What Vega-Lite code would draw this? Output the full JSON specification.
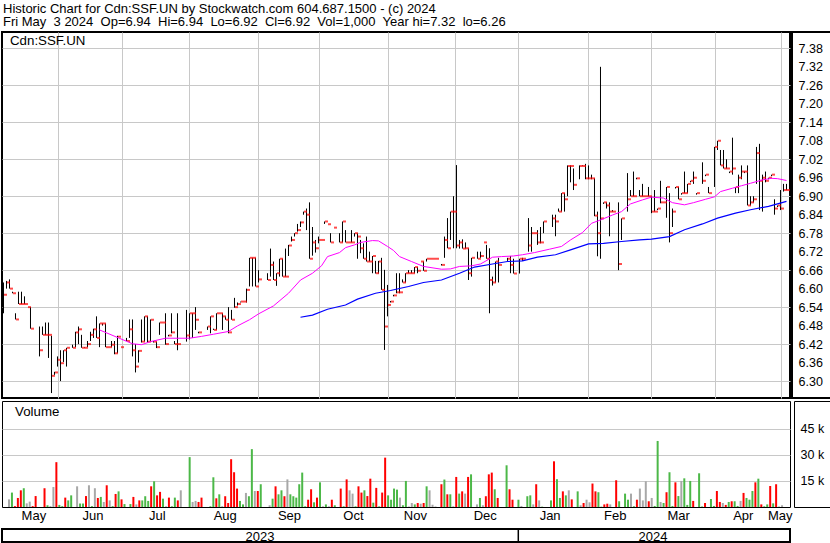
{
  "$schema": "https://vega.github.io/schema/vega-lite/v6.json",
  "background": "white",
  "padding": {"left": 1, "top": 2, "right": 0, "bottom": 0},
  "title": {
    "text": ["Historic Chart for Cdn:SSF.UN by Stockwatch.com 604.687.1500 - (c) 2024", "Fri May\u00a0 3 2024\u00a0 Op=6.94\u00a0 Hi=6.94\u00a0 Lo=6.92\u00a0 Cl=6.92\u00a0 Vol=1,000\u00a0 Year hi=7.32\u00a0 lo=6.26"],
    "anchor": "start", "frame": "bounds", "fontSize": 13, "fontWeight": "normal", "font": "Liberation Sans",
    "color": "black", "lineHeight": 13.5, "offset": 2, "dx": 2
  },
  "config": {
    "view": {"stroke": "black", "strokeWidth": 1, "fill": "white"},
    "font": "Liberation Sans",
    "axis": {"gridColor": "#c8c8c8", "gridWidth": 1, "labelColor": "black", "labelFont": "Liberation Sans", "domain": false, "title": null, "labelOverlap": false}
  },
  "datasets": {
    "p": [
      {"i":0,"h":6.62,"l":6.52,"c":6.58,"v":4400,"d":"n"},
      {"i":1,"h":6.625,"l":6.6,"c":6.62,"v":8300,"d":"u"},
      {"i":2,"h":6.63,"l":6.6,"c":6.6,"v":500,"d":"d"},
      {"i":3,"h":6.59,"l":6.585,"c":6.585,"v":5200,"d":"d"},
      {"i":4,"h":6.52,"l":6.5,"c":6.5,"v":9600,"d":"d"},
      {"i":5,"h":6.59,"l":6.55,"c":6.55,"v":10800,"d":"u"},
      {"i":6,"h":6.59,"l":6.55,"c":6.55,"v":2100,"d":"n"},
      {"i":7,"h":6.575,"l":6.55,"c":6.55,"v":3100,"d":"n"},
      {"i":8,"h":6.54,"l":6.54,"c":6.54,"v":500,"d":"d"},
      {"i":9,"h":6.54,"l":6.47,"c":6.47,"v":6300,"d":"d"},
      {"i":12,"h":6.477,"l":6.38,"c":6.4,"v":10800,"d":"d"},
      {"i":13,"h":6.477,"l":6.45,"c":6.45,"v":1000,"d":"u"},
      {"i":14,"h":6.49,"l":6.45,"c":6.45,"v":500,"d":"n"},
      {"i":15,"h":6.49,"l":6.375,"c":6.45,"v":11500,"d":"n"},
      {"i":16,"h":6.447,"l":6.261,"c":6.317,"v":25800,"d":"d"},
      {"i":17,"h":6.33,"l":6.32,"c":6.328,"v":1200,"d":"u"},
      {"i":18,"h":6.38,"l":6.347,"c":6.369,"v":500,"d":"u"},
      {"i":19,"h":6.4,"l":6.3,"c":6.358,"v":5400,"d":"d"},
      {"i":20,"h":6.4,"l":6.362,"c":6.4,"v":3800,"d":"u"},
      {"i":21,"h":6.408,"l":6.347,"c":6.408,"v":6700,"d":"u"},
      {"i":23,"h":6.418,"l":6.408,"c":6.408,"v":11900,"d":"n"},
      {"i":24,"h":6.46,"l":6.41,"c":6.458,"v":2000,"d":"u"},
      {"i":25,"h":6.477,"l":6.42,"c":6.468,"v":2000,"d":"u"},
      {"i":26,"h":6.45,"l":6.408,"c":6.408,"v":6300,"d":"d"},
      {"i":27,"h":6.41,"l":6.408,"c":6.408,"v":12500,"d":"n"},
      {"i":28,"h":6.43,"l":6.41,"c":6.42,"v":500,"d":"u"},
      {"i":29,"h":6.46,"l":6.43,"c":6.45,"v":10800,"d":"n"},
      {"i":30,"h":6.47,"l":6.44,"c":6.468,"v":5200,"d":"d"},
      {"i":31,"h":6.51,"l":6.44,"c":6.44,"v":5800,"d":"u"},
      {"i":32,"h":6.487,"l":6.41,"c":6.487,"v":2900,"d":"n"},
      {"i":33,"h":6.487,"l":6.48,"c":6.487,"v":12500,"d":"d"},
      {"i":34,"h":6.487,"l":6.41,"c":6.41,"v":3800,"d":"n"},
      {"i":35,"h":6.41,"l":6.41,"c":6.41,"v":500,"d":"u"},
      {"i":36,"h":6.43,"l":6.41,"c":6.418,"v":7500,"d":"d"},
      {"i":37,"h":6.43,"l":6.387,"c":6.39,"v":9000,"d":"u"},
      {"i":38,"h":6.447,"l":6.39,"c":6.444,"v":4400,"d":"d"},
      {"i":39,"h":6.41,"l":6.41,"c":6.41,"v":1700,"d":"u"},
      {"i":41,"h":6.44,"l":6.43,"c":6.43,"v":1700,"d":"u"},
      {"i":42,"h":6.5,"l":6.44,"c":6.468,"v":5800,"d":"d"},
      {"i":43,"h":6.5,"l":6.38,"c":6.4,"v":1500,"d":"n"},
      {"i":44,"h":6.42,"l":6.328,"c":6.347,"v":3800,"d":"d"},
      {"i":45,"h":6.4,"l":6.36,"c":6.398,"v":3800,"d":"u"},
      {"i":46,"h":6.5,"l":6.425,"c":6.428,"v":6200,"d":"u"},
      {"i":47,"h":6.51,"l":6.428,"c":6.51,"v":3500,"d":"u"},
      {"i":48,"h":6.51,"l":6.425,"c":6.428,"v":11900,"d":"d"},
      {"i":49,"h":6.5,"l":6.428,"c":6.499,"v":14800,"d":"u"},
      {"i":50,"h":6.43,"l":6.425,"c":6.428,"v":6700,"d":"d"},
      {"i":51,"h":6.428,"l":6.407,"c":6.41,"v":8700,"d":"d"},
      {"i":52,"h":6.49,"l":6.45,"c":6.49,"v":4800,"d":"u"},
      {"i":53,"h":6.49,"l":6.49,"c":6.49,"v":400,"d":"n"},
      {"i":54,"h":6.52,"l":6.418,"c":6.42,"v":5400,"d":"d"},
      {"i":55,"h":6.45,"l":6.445,"c":6.448,"v":400,"d":"u"},
      {"i":56,"h":6.52,"l":6.455,"c":6.458,"v":5400,"d":"u"},
      {"i":57,"h":6.43,"l":6.42,"c":6.42,"v":3800,"d":"d"},
      {"i":58,"h":6.52,"l":6.4,"c":6.42,"v":9600,"d":"n"},
      {"i":61,"h":6.531,"l":6.428,"c":6.448,"v":28700,"d":"u"},
      {"i":62,"h":6.52,"l":6.435,"c":6.52,"v":2900,"d":"n"},
      {"i":63,"h":6.52,"l":6.44,"c":6.52,"v":3500,"d":"n"},
      {"i":64,"h":6.54,"l":6.466,"c":6.499,"v":2900,"d":"d"},
      {"i":65,"h":6.46,"l":6.455,"c":6.458,"v":5400,"d":"d"},
      {"i":68,"h":6.477,"l":6.466,"c":6.477,"v":400,"d":"u"},
      {"i":69,"h":6.51,"l":6.455,"c":6.51,"v":17100,"d":"u"},
      {"i":70,"h":6.47,"l":6.466,"c":6.466,"v":5000,"d":"d"},
      {"i":71,"h":6.52,"l":6.466,"c":6.52,"v":7300,"d":"u"},
      {"i":72,"h":6.52,"l":6.52,"c":6.52,"v":500,"d":"n"},
      {"i":73,"h":6.52,"l":6.466,"c":6.51,"v":6200,"d":"d"},
      {"i":74,"h":6.51,"l":6.499,"c":6.499,"v":2300,"d":"d"},
      {"i":75,"h":6.54,"l":6.455,"c":6.458,"v":27500,"d":"d"},
      {"i":76,"h":6.531,"l":6.499,"c":6.499,"v":20000,"d":"d"},
      {"i":77,"h":6.57,"l":6.538,"c":6.54,"v":10600,"d":"d"},
      {"i":78,"h":6.555,"l":6.545,"c":6.55,"v":3500,"d":"u"},
      {"i":79,"h":6.558,"l":6.555,"c":6.558,"v":1500,"d":"u"},
      {"i":80,"h":6.558,"l":6.558,"c":6.558,"v":8100,"d":"n"},
      {"i":81,"h":6.6,"l":6.555,"c":6.596,"v":6200,"d":"u"},
      {"i":82,"h":6.7,"l":6.607,"c":6.7,"v":33300,"d":"u"},
      {"i":83,"h":6.7,"l":6.607,"c":6.7,"v":9200,"d":"n"},
      {"i":84,"h":6.7,"l":6.607,"c":6.607,"v":9200,"d":"d"},
      {"i":85,"h":6.66,"l":6.62,"c":6.63,"v":13100,"d":"u"},
      {"i":88,"h":6.65,"l":6.628,"c":6.628,"v":1000,"d":"n"},
      {"i":89,"h":6.73,"l":6.639,"c":6.677,"v":4800,"d":"u"},
      {"i":90,"h":6.688,"l":6.628,"c":6.628,"v":11900,"d":"d"},
      {"i":91,"h":6.65,"l":6.609,"c":6.65,"v":7300,"d":"u"},
      {"i":92,"h":6.697,"l":6.639,"c":6.697,"v":9600,"d":"u"},
      {"i":93,"h":6.697,"l":6.639,"c":6.639,"v":6200,"d":"d"},
      {"i":94,"h":6.73,"l":6.639,"c":6.639,"v":15900,"d":"n"},
      {"i":95,"h":6.742,"l":6.706,"c":6.74,"v":7300,"d":"u"},
      {"i":96,"h":6.769,"l":6.753,"c":6.758,"v":6200,"d":"u"},
      {"i":97,"h":6.78,"l":6.769,"c":6.78,"v":5400,"d":"u"},
      {"i":98,"h":6.81,"l":6.785,"c":6.79,"v":13100,"d":"u"},
      {"i":99,"h":6.818,"l":6.8,"c":6.815,"v":19800,"d":"u"},
      {"i":100,"h":6.85,"l":6.84,"c":6.85,"v":400,"d":"u"},
      {"i":101,"h":6.86,"l":6.79,"c":6.84,"v":4200,"d":"d"},
      {"i":102,"h":6.88,"l":6.697,"c":6.697,"v":10200,"d":"d"},
      {"i":103,"h":6.8,"l":6.707,"c":6.75,"v":2700,"d":"u"},
      {"i":104,"h":6.758,"l":6.717,"c":6.731,"v":5400,"d":"d"},
      {"i":105,"h":6.769,"l":6.747,"c":6.758,"v":14200,"d":"u"},
      {"i":106,"h":6.758,"l":6.758,"c":6.758,"v":400,"d":"n"},
      {"i":107,"h":6.818,"l":6.81,"c":6.818,"v":1500,"d":"u"},
      {"i":108,"h":6.809,"l":6.809,"c":6.809,"v":400,"d":"n"},
      {"i":109,"h":6.78,"l":6.75,"c":6.75,"v":4200,"d":"d"},
      {"i":110,"h":6.798,"l":6.798,"c":6.798,"v":1000,"d":"u"},
      {"i":112,"h":6.78,"l":6.75,"c":6.75,"v":10600,"d":"d"},
      {"i":113,"h":6.818,"l":6.75,"c":6.818,"v":400,"d":"u"},
      {"i":114,"h":6.79,"l":6.75,"c":6.75,"v":15900,"d":"d"},
      {"i":115,"h":6.75,"l":6.75,"c":6.75,"v":9600,"d":"n"},
      {"i":116,"h":6.79,"l":6.75,"c":6.75,"v":7700,"d":"n"},
      {"i":117,"h":6.78,"l":6.769,"c":6.78,"v":400,"d":"u"},
      {"i":118,"h":6.78,"l":6.697,"c":6.769,"v":11900,"d":"d"},
      {"i":119,"h":6.758,"l":6.715,"c":6.731,"v":8300,"d":"d"},
      {"i":120,"h":6.747,"l":6.697,"c":6.697,"v":9600,"d":"u"},
      {"i":121,"h":6.769,"l":6.688,"c":6.688,"v":6300,"d":"d"},
      {"i":122,"h":6.72,"l":6.688,"c":6.688,"v":16300,"d":"d"},
      {"i":123,"h":6.706,"l":6.65,"c":6.706,"v":2500,"d":"u"},
      {"i":124,"h":6.69,"l":6.649,"c":6.65,"v":11000,"d":"d"},
      {"i":125,"h":6.69,"l":6.649,"c":6.688,"v":400,"d":"u"},
      {"i":126,"h":6.7,"l":6.596,"c":6.596,"v":8300,"d":"d"},
      {"i":127,"h":6.661,"l":6.401,"c":6.477,"v":28400,"d":"d"},
      {"i":128,"h":6.612,"l":6.51,"c":6.547,"v":6700,"d":"u"},
      {"i":129,"h":6.56,"l":6.555,"c":6.558,"v":4200,"d":"u"},
      {"i":130,"h":6.58,"l":6.575,"c":6.578,"v":10600,"d":"u"},
      {"i":131,"h":6.65,"l":6.585,"c":6.588,"v":10000,"d":"u"},
      {"i":132,"h":6.65,"l":6.585,"c":6.588,"v":5400,"d":"n"},
      {"i":133,"h":6.63,"l":6.62,"c":6.62,"v":1000,"d":"u"},
      {"i":134,"h":6.65,"l":6.62,"c":6.65,"v":15000,"d":"u"},
      {"i":135,"h":6.66,"l":6.65,"c":6.65,"v":300,"d":"n"},
      {"i":136,"h":6.66,"l":6.65,"c":6.65,"v":2300,"d":"n"},
      {"i":137,"h":6.67,"l":6.65,"c":6.67,"v":1500,"d":"u"},
      {"i":138,"h":6.67,"l":6.65,"c":6.658,"v":2300,"d":"d"},
      {"i":139,"h":6.688,"l":6.688,"c":6.688,"v":1900,"d":"n"},
      {"i":140,"h":6.688,"l":6.658,"c":6.658,"v":2300,"d":"d"},
      {"i":141,"h":6.697,"l":6.688,"c":6.697,"v":11900,"d":"u"},
      {"i":142,"h":6.697,"l":6.697,"c":6.697,"v":9600,"d":"n"},
      {"i":143,"h":6.697,"l":6.697,"c":6.697,"v":1300,"d":"n"},
      {"i":144,"h":6.697,"l":6.697,"c":6.697,"v":300,"d":"n"},
      {"i":146,"h":6.68,"l":6.675,"c":6.677,"v":13100,"d":"d"},
      {"i":147,"h":6.769,"l":6.7,"c":6.758,"v":15800,"d":"u"},
      {"i":148,"h":6.829,"l":6.731,"c":6.731,"v":7300,"d":"d"},
      {"i":149,"h":6.85,"l":6.758,"c":6.85,"v":7300,"d":"u"},
      {"i":150,"h":6.9,"l":6.731,"c":6.85,"v":400,"d":"n"},
      {"i":151,"h":7.001,"l":6.731,"c":6.74,"v":17300,"d":"d"},
      {"i":152,"h":6.758,"l":6.73,"c":6.75,"v":7700,"d":"u"},
      {"i":153,"h":6.76,"l":6.73,"c":6.73,"v":9000,"d":"d"},
      {"i":154,"h":6.75,"l":6.73,"c":6.731,"v":7700,"d":"n"},
      {"i":155,"h":6.731,"l":6.628,"c":6.65,"v":17300,"d":"d"},
      {"i":156,"h":6.7,"l":6.639,"c":6.7,"v":18800,"d":"u"},
      {"i":158,"h":6.72,"l":6.697,"c":6.697,"v":1500,"d":"n"},
      {"i":159,"h":6.72,"l":6.7,"c":6.706,"v":5200,"d":"u"},
      {"i":160,"h":6.75,"l":6.75,"c":6.75,"v":1000,"d":"n"},
      {"i":161,"h":6.742,"l":6.697,"c":6.697,"v":6200,"d":"d"},
      {"i":162,"h":6.731,"l":6.52,"c":6.628,"v":18800,"d":"d"},
      {"i":163,"h":6.639,"l":6.61,"c":6.62,"v":19800,"d":"d"},
      {"i":164,"h":6.688,"l":6.62,"c":6.688,"v":10200,"d":"u"},
      {"i":165,"h":6.7,"l":6.62,"c":6.677,"v":5200,"d":"d"},
      {"i":168,"h":6.7,"l":6.69,"c":6.697,"v":24000,"d":"u"},
      {"i":169,"h":6.706,"l":6.65,"c":6.677,"v":10200,"d":"d"},
      {"i":170,"h":6.697,"l":6.649,"c":6.649,"v":4200,"d":"d"},
      {"i":172,"h":6.697,"l":6.649,"c":6.697,"v":4200,"d":"u"},
      {"i":173,"h":6.7,"l":6.69,"c":6.697,"v":600,"d":"n"},
      {"i":175,"h":6.829,"l":6.72,"c":6.74,"v":6200,"d":"u"},
      {"i":176,"h":6.8,"l":6.72,"c":6.78,"v":6700,"d":"u"},
      {"i":177,"h":6.78,"l":6.78,"c":6.78,"v":1500,"d":"n"},
      {"i":178,"h":6.79,"l":6.742,"c":6.75,"v":13100,"d":"d"},
      {"i":179,"h":6.8,"l":6.747,"c":6.75,"v":3800,"d":"n"},
      {"i":180,"h":6.818,"l":6.78,"c":6.818,"v":200,"d":"u"},
      {"i":183,"h":6.84,"l":6.8,"c":6.828,"v":3800,"d":"u"},
      {"i":184,"h":6.84,"l":6.77,"c":6.818,"v":26300,"d":"d"},
      {"i":185,"h":6.86,"l":6.85,"c":6.85,"v":16000,"d":"u"},
      {"i":186,"h":6.91,"l":6.85,"c":6.91,"v":5200,"d":"u"},
      {"i":187,"h":6.91,"l":6.85,"c":6.89,"v":9000,"d":"d"},
      {"i":188,"h":7.0,"l":6.9,"c":6.998,"v":6700,"d":"u"},
      {"i":189,"h":7.0,"l":6.945,"c":6.998,"v":9600,"d":"n"},
      {"i":190,"h":6.99,"l":6.92,"c":6.937,"v":4400,"d":"d"},
      {"i":192,"h":7.0,"l":6.955,"c":6.998,"v":9000,"d":"u"},
      {"i":193,"h":7.0,"l":6.998,"c":6.998,"v":1000,"d":"n"},
      {"i":194,"h":7.005,"l":6.955,"c":6.958,"v":2300,"d":"d"},
      {"i":195,"h":7.0,"l":6.955,"c":6.958,"v":4200,"d":"n"},
      {"i":196,"h":6.97,"l":6.955,"c":6.958,"v":2700,"d":"n"},
      {"i":197,"h":6.958,"l":6.835,"c":6.837,"v":13500,"d":"d"},
      {"i":198,"h":6.85,"l":6.705,"c":6.78,"v":9000,"d":"d"},
      {"i":199,"h":7.32,"l":6.697,"c":6.828,"v":8500,"d":"u"},
      {"i":200,"h":6.88,"l":6.875,"c":6.88,"v":200,"d":"u"},
      {"i":201,"h":6.88,"l":6.86,"c":6.87,"v":1500,"d":"d"},
      {"i":202,"h":6.88,"l":6.77,"c":6.85,"v":1900,"d":"d"},
      {"i":203,"h":6.855,"l":6.85,"c":6.85,"v":1500,"d":"n"},
      {"i":205,"h":6.88,"l":6.66,"c":6.68,"v":15400,"d":"d"},
      {"i":206,"h":6.828,"l":6.758,"c":6.828,"v":3300,"d":"u"},
      {"i":208,"h":6.975,"l":6.85,"c":6.89,"v":7700,"d":"u"},
      {"i":209,"h":6.92,"l":6.9,"c":6.9,"v":4200,"d":"u"},
      {"i":210,"h":6.98,"l":6.9,"c":6.9,"v":7700,"d":"n"},
      {"i":211,"h":6.96,"l":6.955,"c":6.958,"v":400,"d":"u"},
      {"i":212,"h":6.92,"l":6.9,"c":6.9,"v":4200,"d":"d"},
      {"i":213,"h":6.94,"l":6.9,"c":6.9,"v":10600,"d":"n"},
      {"i":214,"h":6.9,"l":6.9,"c":6.9,"v":3800,"d":"n"},
      {"i":215,"h":6.93,"l":6.9,"c":6.9,"v":14800,"d":"n"},
      {"i":216,"h":6.9,"l":6.845,"c":6.85,"v":3300,"d":"d"},
      {"i":217,"h":6.92,"l":6.85,"c":6.85,"v":5200,"d":"n"},
      {"i":218,"h":6.86,"l":6.855,"c":6.86,"v":600,"d":"u"},
      {"i":219,"h":6.95,"l":6.877,"c":6.88,"v":38000,"d":"u"},
      {"i":220,"h":6.88,"l":6.88,"c":6.88,"v":2900,"d":"n"},
      {"i":221,"h":6.93,"l":6.83,"c":6.93,"v":2300,"d":"u"},
      {"i":222,"h":6.91,"l":6.75,"c":6.78,"v":8500,"d":"d"},
      {"i":223,"h":6.86,"l":6.8,"c":6.85,"v":20000,"d":"u"},
      {"i":224,"h":6.93,"l":6.925,"c":6.93,"v":600,"d":"u"},
      {"i":225,"h":6.93,"l":6.89,"c":6.89,"v":14200,"d":"d"},
      {"i":226,"h":6.91,"l":6.905,"c":6.91,"v":6300,"d":"u"},
      {"i":227,"h":6.98,"l":6.91,"c":6.91,"v":15000,"d":"n"},
      {"i":228,"h":6.94,"l":6.91,"c":6.94,"v":16500,"d":"u"},
      {"i":229,"h":6.95,"l":6.945,"c":6.95,"v":1200,"d":"u"},
      {"i":230,"h":6.98,"l":6.94,"c":6.96,"v":15000,"d":"u"},
      {"i":231,"h":6.91,"l":6.905,"c":6.91,"v":3500,"d":"d"},
      {"i":233,"h":7.01,"l":6.94,"c":6.95,"v":19400,"d":"u"},
      {"i":234,"h":6.97,"l":6.965,"c":6.97,"v":300,"d":"u"},
      {"i":235,"h":6.93,"l":6.91,"c":6.91,"v":2300,"d":"d"},
      {"i":237,"h":7.06,"l":6.93,"c":7.06,"v":4600,"d":"u"},
      {"i":238,"h":7.08,"l":7.05,"c":7.08,"v":600,"d":"u"},
      {"i":239,"h":7.05,"l":7.0,"c":7.0,"v":9200,"d":"d"},
      {"i":240,"h":7.05,"l":6.99,"c":6.99,"v":2900,"d":"d"},
      {"i":241,"h":7.02,"l":6.99,"c":6.99,"v":2300,"d":"n"},
      {"i":242,"h":6.98,"l":6.975,"c":6.98,"v":1200,"d":"d"},
      {"i":243,"h":7.09,"l":6.97,"c":6.99,"v":2900,"d":"u"},
      {"i":244,"h":6.93,"l":6.91,"c":6.93,"v":3300,"d":"d"},
      {"i":245,"h":6.97,"l":6.91,"c":6.96,"v":3300,"d":"u"},
      {"i":246,"h":7.0,"l":6.955,"c":6.98,"v":600,"d":"u"},
      {"i":247,"h":6.98,"l":6.975,"c":6.98,"v":3500,"d":"n"},
      {"i":248,"h":7.0,"l":6.87,"c":6.87,"v":8100,"d":"d"},
      {"i":249,"h":6.9,"l":6.87,"c":6.88,"v":5200,"d":"u"},
      {"i":250,"h":6.9,"l":6.88,"c":6.89,"v":4200,"d":"u"},
      {"i":251,"h":7.06,"l":6.94,"c":7.04,"v":9200,"d":"u"},
      {"i":252,"h":7.07,"l":6.855,"c":6.95,"v":14200,"d":"d"},
      {"i":253,"h":6.97,"l":6.85,"c":6.96,"v":16300,"d":"u"},
      {"i":254,"h":6.98,"l":6.945,"c":6.95,"v":1500,"d":"d"},
      {"i":255,"h":6.96,"l":6.955,"c":6.96,"v":400,"d":"u"},
      {"i":256,"h":6.97,"l":6.965,"c":6.97,"v":1500,"d":"u"},
      {"i":257,"h":6.89,"l":6.84,"c":6.86,"v":12100,"d":"d"},
      {"i":258,"h":6.87,"l":6.865,"c":6.87,"v":2100,"d":"u"},
      {"i":259,"h":6.92,"l":6.855,"c":6.86,"v":13100,"d":"d"},
      {"i":260,"h":6.94,"l":6.915,"c":6.92,"v":200,"d":"u"},
      {"i":261,"h":6.94,"l":6.92,"c":6.92,"v":1000,"d":"n"}
    ],
    "ma20": [
      {"i":32,"v":6.466},{"i":43,"v":6.421},{"i":46,"v":6.418},{"i":49,"v":6.428},{"i":54,"v":6.439},{"i":62,"v":6.439},{"i":66,"v":6.445},{"i":70,"v":6.452},{"i":75,"v":6.461},{"i":78,"v":6.479},{"i":82,"v":6.499},{"i":85,"v":6.518},{"i":90,"v":6.544},{"i":95,"v":6.585},{"i":99,"v":6.628},{"i":103,"v":6.65},{"i":106,"v":6.674},{"i":108,"v":6.704},{"i":112,"v":6.717},{"i":114,"v":6.733},{"i":117,"v":6.742},{"i":119,"v":6.75},{"i":123,"v":6.756},{"i":125,"v":6.755},{"i":128,"v":6.737},{"i":130,"v":6.724},{"i":132,"v":6.704},{"i":136,"v":6.688},{"i":140,"v":6.672},{"i":146,"v":6.663},{"i":149,"v":6.664},{"i":152,"v":6.672},{"i":156,"v":6.674},{"i":159,"v":6.68},{"i":163,"v":6.702},{"i":166,"v":6.704},{"i":170,"v":6.706},{"i":173,"v":6.71},{"i":177,"v":6.717},{"i":182,"v":6.728},{"i":186,"v":6.737},{"i":189,"v":6.758},{"i":193,"v":6.782},{"i":196,"v":6.812},{"i":199,"v":6.823},{"i":203,"v":6.839},{"i":206,"v":6.85},{"i":209,"v":6.875},{"i":213,"v":6.888},{"i":216,"v":6.897},{"i":220,"v":6.894},{"i":223,"v":6.879},{"i":227,"v":6.872},{"i":230,"v":6.879},{"i":234,"v":6.89},{"i":237,"v":6.898},{"i":239,"v":6.915},{"i":243,"v":6.926},{"i":246,"v":6.934},{"i":249,"v":6.942},{"i":253,"v":6.953},{"i":256,"v":6.958},{"i":258,"v":6.957},{"i":261,"v":6.951}
    ],
    "ma100": [
      {"i":99,"v":6.507},{"i":103,"v":6.514},{"i":108,"v":6.533},{"i":114,"v":6.547},{"i":118,"v":6.566},{"i":124,"v":6.585},{"i":129,"v":6.594},{"i":135,"v":6.607},{"i":140,"v":6.62},{"i":146,"v":6.628},{"i":152,"v":6.65},{"i":157,"v":6.67},{"i":163,"v":6.68},{"i":168,"v":6.688},{"i":173,"v":6.69},{"i":178,"v":6.702},{"i":184,"v":6.71},{"i":189,"v":6.726},{"i":195,"v":6.745},{"i":200,"v":6.747},{"i":206,"v":6.753},{"i":212,"v":6.758},{"i":216,"v":6.761},{"i":222,"v":6.769},{"i":227,"v":6.791},{"i":233,"v":6.81},{"i":238,"v":6.829},{"i":244,"v":6.845},{"i":249,"v":6.856},{"i":255,"v":6.867},{"i":258,"v":6.875},{"i":261,"v":6.883}
    ],
    "yr": [{"i":85.5,"t":"2023"},{"i":216.5,"t":"2024"}]
  },
  "spacing": 1,
  "vconcat": [
    {
      "spacing": 0,
      "resolve": {"scale": {"y": "independent"}, "axis": {"y": "independent"}},
      "hconcat": [
        {
          "width": 788,
          "height": 366,
          "view": {"stroke": "black", "strokeWidth": 2},
          "layer": [
            {
              "data": {"name": "p"},
              "mark": {"type": "rule", "color": "black", "strokeWidth": 1},
              "encoding": {
                "x": {"field": "i", "type": "quantitative",
                  "scale": {"domain": [-0.5, 262.1667], "nice": false, "zero": false},
                  "axis": {"values": [18.2,39.6,61.8,84.9,105.2,128.2,150.4,171.6,194.9,215.8,237.1,259.2], "labels": false, "ticks": false, "grid": true}},
                "y": {"field": "l", "type": "quantitative",
                  "scale": {"domain": [6.245, 7.433], "nice": false, "zero": false},
                  "axis": {"orient": "right", "values": [6.3,6.36,6.42,6.48,6.54,6.6,6.66,6.72,6.78,6.84,6.9,6.96,7.02,7.08,7.14,7.2,7.26,7.32,7.38], "labels": false, "ticks": false, "grid": true, "minExtent": 0, "maxExtent": 0}},
                "y2": {"field": "h"}
              }
            },
            {
              "data": {"name": "p"},
              "mark": {"type": "tick", "orient": "horizontal", "color": "#ff0000", "size": 3, "thickness": 2, "xOffset": 2},
              "encoding": {
                "x": {"field": "i", "type": "quantitative"},
                "y": {"field": "c", "type": "quantitative"}
              }
            },
            {
              "data": {"name": "ma20"},
              "mark": {"type": "line", "color": "#ff00ff", "strokeWidth": 1},
              "encoding": {
                "x": {"field": "i", "type": "quantitative"},
                "y": {"field": "v", "type": "quantitative"}
              }
            },
            {
              "data": {"name": "ma100"},
              "mark": {"type": "line", "color": "#0000ff", "strokeWidth": 1.2},
              "encoding": {
                "x": {"field": "i", "type": "quantitative"},
                "y": {"field": "v", "type": "quantitative"}
              }
            },
            {
              "data": {"values": [{"t": "Cdn:SSF.UN"}]},
              "mark": {"type": "text", "align": "left", "baseline": "top", "dx": 8, "dy": 2, "fontSize": 13.3, "color": "black"},
              "encoding": {
                "x": {"datum": -0.5, "type": "quantitative"},
                "y": {"datum": 7.433, "type": "quantitative"},
                "text": {"field": "t"}
              }
            }
          ]
        },
        {
          "width": 40,
          "height": 366,
          "view": {"stroke": "black", "strokeWidth": 2, "fill": "white"},
          "data": {"values": [{}]},
          "mark": {"type": "rule", "opacity": 0},
          "encoding": {
            "y": {"datum": 6.3, "type": "quantitative",
              "scale": {"domain": [6.245, 7.433], "nice": false, "zero": false},
              "axis": {"orient": "left", "values": [6.3,6.36,6.42,6.48,6.54,6.6,6.66,6.72,6.78,6.84,6.9,6.96,7.02,7.08,7.14,7.2,7.26,7.32,7.38], "format": ".2f", "ticks": false, "grid": false, "labelAlign": "left", "labelPadding": -6, "labelFontSize": 12.5, "labelOverlap": false, "labelBound": false, "minExtent": 0, "maxExtent": 0}}
          }
        }
      ]
    },
    {
      "spacing": 0,
      "vconcat": [
        {
          "spacing": 0,
          "resolve": {"scale": {"y": "independent"}, "axis": {"y": "independent"}},
          "hconcat": [
            {
              "width": 788,
              "height": 106,
              "layer": [
                {
                  "data": {"name": "p"},
                  "mark": {"type": "bar", "width": 2, "xOffset": 0.5},
                  "encoding": {
                    "x": {"field": "i", "type": "quantitative",
                      "scale": {"domain": [-0.5, 262.1667], "nice": false, "zero": false},
                      "axis": {
                        "values": [18.2,39.6,61.8,84.9,105.2,128.2,150.4,171.6,194.9,215.8,237.1,259.2,8.4,28.4,50.1,73,94.7,116.3,137.2,160.8,182.7,204.7,226.1,247.9,260.4],
                        "labelExpr": "{'8.4':'May','28.4':'Jun','50.1':'Jul','73':'Aug','94.7':'Sep','116.3':'Oct','137.2':'Nov','160.8':'Dec','182.7':'Jan','204.7':'Feb','226.1':'Mar','247.9':'Apr','260.4':'May'}[datum.value] || ''",
                        "labelFontSize": 13, "labelOverlap": false, "labelFlush": false, "labelBaseline": "top", "labelPadding": -17,
                        "ticks": true, "tickSize": 19, "tickColor": "black", "tickWidth": 1.5,
                        "tickOpacity": {"condition": {"test": "datum.value == 171.6", "value": 1}, "value": 0},
                        "grid": true,
                        "gridOpacity": {"condition": {"test": "indexof([18.2,39.6,61.8,84.9,105.2,128.2,150.4,171.6,194.9,215.8,237.1,259.2], datum.value) >= 0", "value": 1}, "value": 0},
                        "minExtent": 19, "maxExtent": 19
                      }},
                    "y": {"field": "v", "type": "quantitative",
                      "scale": {"domain": [0, 61000], "nice": false},
                      "axis": {"orient": "right", "values": [15000, 30000, 45000], "labels": false, "ticks": false, "grid": true, "minExtent": 0, "maxExtent": 0}},
                    "color": {"field": "d", "type": "nominal", "scale": {"domain": ["u", "d", "n"], "range": ["#4cb848", "#ff0000", "#a8a8a8"]}, "legend": null}
                  }
                },
                {
                  "data": {"values": [{"t": "Volume"}]},
                  "mark": {"type": "text", "align": "left", "baseline": "top", "dx": 8, "dy": 4, "fontSize": 13.3, "color": "black"},
                  "encoding": {
                    "x": {"datum": -0.5, "type": "quantitative"},
                    "y": {"datum": 61000, "type": "quantitative"},
                    "text": {"field": "t"}
                  }
                }
              ]
            },
            {
              "width": 40,
              "height": 106,
              "view": {"stroke": "black", "strokeWidth": 1, "fill": "white"},
              "data": {"values": [{}]},
              "mark": {"type": "rule", "opacity": 0},
              "encoding": {
                "y": {"datum": 0, "type": "quantitative",
                  "scale": {"domain": [0, 61000], "nice": false},
                  "axis": {"orient": "left", "values": [15000, 30000, 45000], "labelExpr": "datum.value/1000 + ' k'", "ticks": false, "grid": false, "labelAlign": "left", "labelPadding": -6, "labelFontSize": 12.5, "labelOverlap": false, "labelBound": false, "minExtent": 0, "maxExtent": 0}}
              }
            }
          ]
        },
        {
          "width": 788,
          "height": 13,
          "view": {"stroke": "black", "strokeWidth": 2},
          "layer": [
            {
              "data": {"name": "yr"},
              "mark": {"type": "text", "fontSize": 13, "color": "black", "baseline": "middle", "dy": 1},
              "encoding": {
                "x": {"field": "i", "type": "quantitative", "scale": {"domain": [-0.5, 262.1667], "nice": false, "zero": false}, "axis": null},
                "text": {"field": "t"}
              }
            },
            {
              "data": {"values": [{"i": 171.6}]},
              "mark": {"type": "rule", "color": "black", "strokeWidth": 1.5},
              "encoding": {
                "x": {"field": "i", "type": "quantitative"}
              }
            }
          ]
        }
      ]
    }
  ]
}
